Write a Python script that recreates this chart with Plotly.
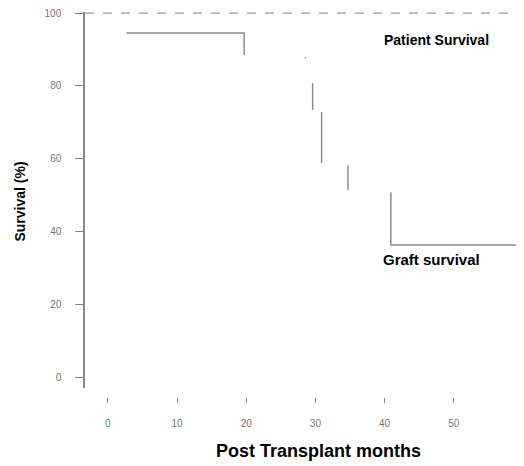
import plotly.graph_objects as go

# Data (months, survival %)
patient_months = [2.7, 19.7, 19.7]
patient_surv = [94.5, 94.5, 88.5]

graft_months = [28.5, 28.6, None, 29.6, 29.6, None, 30.9, 30.9, None,
                34.7, 34.7, None, 40.9, 40.9, 60.0]
graft_surv = [87.9, 87.6, None, 80.8, 73.4, None, 72.8, 58.8, None,
              58.2, 51.4, None, 50.8, 36.3, 36.3]

x_ticks = [0, 10, 20, 30, 40, 50, 60]
y_ticks = [0, 20, 40, 60, 80, 100]

line_color = "#8c8c8c"
font_family = "Liberation Sans, Arial, sans-serif"

fig = go.Figure()
fig.add_trace(go.Scatter(x=patient_months, y=patient_surv, mode="lines",
                         line=dict(color=line_color, width=1.5),
                         name="Patient Survival", showlegend=False))
fig.add_trace(go.Scatter(x=graft_months, y=graft_surv, mode="lines",
                         line=dict(color=line_color, width=1.5),
                         connectgaps=False,
                         name="Graft survival", showlegend=False))

# dashed 100% reference line across the top
fig.add_shape(type="line", xref="paper", x0=0, x1=1.05, yref="y", y0=100, y1=100,
              line=dict(color="#9a9a9a", width=1.2, dash="dash"))

fig.add_annotation(x=47.5, y=92.5, xref="x", yref="y", text="<b>Patient Survival</b>",
                   showarrow=False, font=dict(size=14, color="black", family=font_family))
fig.add_annotation(x=46.8, y=32.2, xref="x", yref="y", text="<b>Graft survival</b>",
                   showarrow=False, font=dict(size=15, color="black", family=font_family))

fig.add_annotation(x=30.4, y=-0.172, xref="x", yref="paper",
                   text="<b>Post Transplant months</b>",
                   showarrow=False, font=dict(size=18, color="black", family=font_family))
fig.add_annotation(x=-0.148, y=0.508, xref="paper", yref="paper", text="<b>Survival (%)</b>",
                   textangle=-90, showarrow=False, xanchor="center", yanchor="middle",
                   font=dict(size=14, color="black", family=font_family))

fig.update_layout(
    width=524, height=466,
    margin=dict(l=77, r=9, t=4, b=77, autoexpand=False),
    plot_bgcolor="white", paper_bgcolor="white",
    font=dict(family=font_family),
    xaxis=dict(range=[-3.3, 60.0], tickvals=x_ticks, ticks="outside", ticklen=5,
               tickcolor="#888", showline=False, showgrid=False, zeroline=False,
               anchor="free", position=0, ticklabelstandoff=12,
               ticklabeloverflow="allow", automargin=False,
               tickfont=dict(size=10, color="#777")),
    yaxis=dict(range=[-3, 100.3], domain=[0.0234, 1], tickvals=y_ticks,
               ticks="outside", ticklen=8, tickcolor="#888",
               showline=True, linecolor="#888", linewidth=1.5,
               showgrid=False, zeroline=False, ticklabelstandoff=12,
               ticklabeloverflow="allow", automargin=False,
               tickfont=dict(size=10, color="#777")),
)

fig.write_html("out.html")
